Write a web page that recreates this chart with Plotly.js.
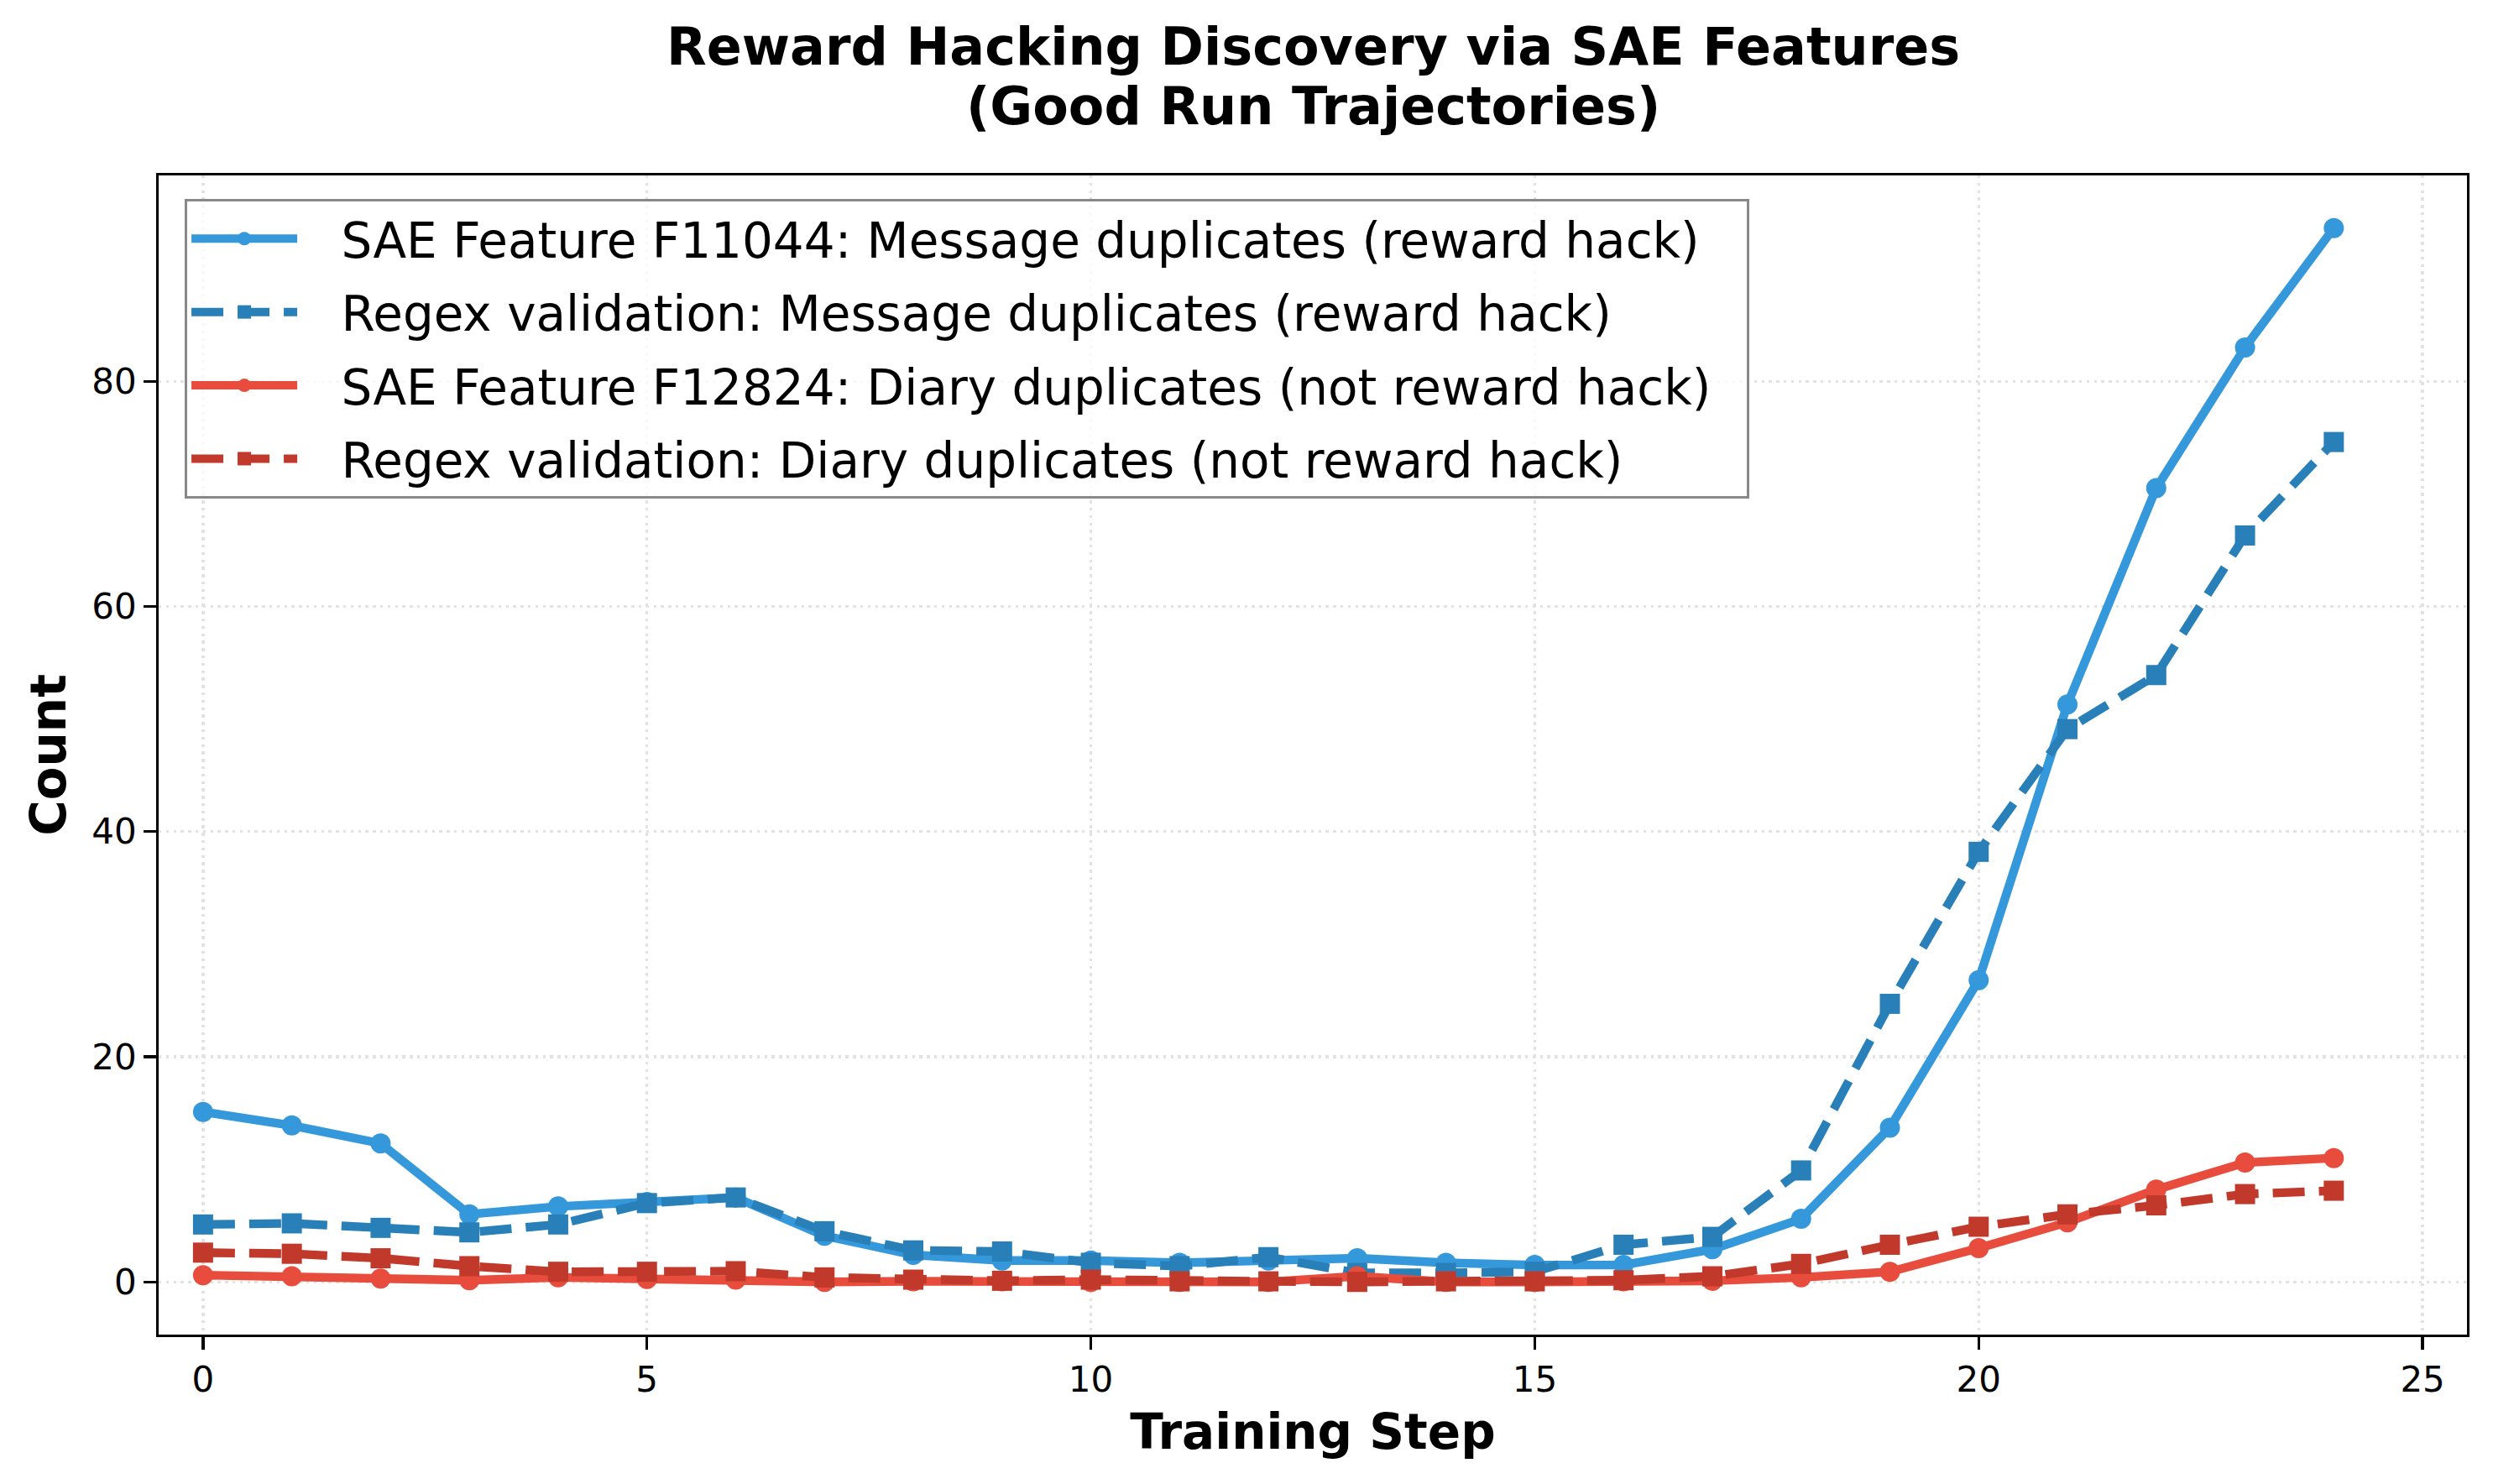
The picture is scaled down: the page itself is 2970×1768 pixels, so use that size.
<!DOCTYPE html>
<html>
<head>
<meta charset="utf-8">
<script src="https://cdn.plot.ly/plotly-3.0.1.min.js"></script>
<style>
  html, body { margin: 0; padding: 0; background: #fff; }
  #chart { width: 2970px; height: 1768px; }
</style>
</head>
<body>
<div id="chart"></div>
<script>
// training steps
const steps = [0, 1, 2, 3, 4, 5, 6, 7, 8, 9, 10, 11, 12, 13, 14, 15, 16, 17, 18, 19, 20, 21, 22, 23, 24];

// counts
const saeMessage = [15.1, 13.9, 12.3, 6.0, 6.7, 7.1, 7.5, 4.1, 2.4, 1.9, 1.9, 1.7, 1.9, 2.1, 1.7, 1.5, 1.5, 2.9, 5.6, 13.7, 26.8, 51.3, 70.5, 83.0, 93.6];
const regexMessage = [5.1, 5.2, 4.8, 4.4, 5.1, 7.0, 7.5, 4.5, 2.8, 2.7, 1.7, 1.4, 2.2, 0.8, 0.8, 0.9, 3.3, 4.0, 9.9, 24.7, 38.2, 49.1, 53.9, 66.3, 74.6];
const saeDiary = [0.6, 0.5, 0.3, 0.15, 0.4, 0.25, 0.2, 0.0, 0.05, 0.05, 0.0, 0.0, 0.0, 0.5, 0.0, 0.0, 0.05, 0.1, 0.4, 0.9, 3.0, 5.3, 8.2, 10.6, 11.0];
const regexDiary = [2.6, 2.5, 2.1, 1.4, 0.9, 0.9, 0.95, 0.4, 0.2, 0.1, 0.2, 0.05, 0.05, 0.0, 0.05, 0.05, 0.15, 0.5, 1.6, 3.3, 4.9, 6.0, 6.8, 7.8, 8.1];

const seriesNames = [
    'SAE Feature F11044: Message duplicates (reward hack)',
    'Regex validation: Message duplicates (reward hack)',
    'SAE Feature F12824: Diary duplicates (not reward hack)',
    'Regex validation: Diary duplicates (not reward hack)'
];

const xTicks = [0, 5, 10, 15, 20, 25];
const yTicks = [0, 20, 40, 60, 80];

const FONT = 'DejaVu Sans';
const DASH = '38px,17px';
// extra room between legend symbol and label, and at the right of the box
const PAD_LEFT = '\u2002\u00a0';
const PAD_RIGHT = '\u00a0\u00a0';

function makeTrace(y, name, color, symbol, dash, group) {
    return {
        x: steps,
        y: y,
        name: PAD_LEFT + name + PAD_RIGHT,
        legendgroup: group,
        type: 'scatter',
        mode: 'lines+markers',
        line: { color: color, width: 10.4, dash: dash },
        marker: { color: color, size: 24, symbol: symbol, line: { width: 0 } }
    };
}

const traces = [
    makeTrace(saeMessage, seriesNames[0], '#3498db', 'circle', 'solid', 'a'),
    makeTrace(regexMessage, seriesNames[1], '#2980b9', 'square', DASH, 'b'),
    makeTrace(saeDiary, seriesNames[2], '#e74c3c', 'circle', 'solid', 'c'),
    makeTrace(regexDiary, seriesNames[3], '#c0392b', 'square', DASH, 'd')
];

const axisCommon = {
    showline: true,
    mirror: true,
    linecolor: '#000',
    linewidth: 3.3,
    ticks: 'outside',
    ticklen: 14.6,
    tickwidth: 3.3,
    tickcolor: '#000',
    tickfont: { family: FONT, size: 42, color: '#000' },
    showgrid: true,
    gridcolor: '#e2e2e2',
    gridwidth: 3.3,
    griddash: '3.3px,5.5px',
    zeroline: false
};

const layout = {
    width: 2970,
    height: 1768,
    paper_bgcolor: '#fff',
    plot_bgcolor: '#fff',
    margin: { l: 189, r: 31, t: 209, b: 178 },
    showlegend: true,
    font: { family: FONT, color: '#000' },
    xaxis: Object.assign({}, axisCommon, {
        range: [-0.5, 25.5],
        tickvals: xTicks,
        ticktext: xTicks.map(String),
        title: { text: 'Training Step', font: { family: FONT, size: 58, weight: 'bold', color: '#000' }, standoff: 19 }
    }),
    yaxis: Object.assign({}, axisCommon, {
        range: [-4.68, 98.28],
        tickvals: yTicks,
        ticktext: yTicks.map(String),
        title: { text: 'Count', font: { family: FONT, size: 58, weight: 'bold', color: '#000' }, standoff: 13 }
    }),
    legend: {
        x: 0.0113,
        y: 0.9797,
        xanchor: 'left',
        yanchor: 'top',
        bgcolor: 'rgba(255,255,255,0.8)',
        bordercolor: '#888',
        borderwidth: 3,
        font: { family: FONT, size: 58, color: '#000' },
        traceorder: 'grouped',
        tracegroupgap: 9,
        itemwidth: 126
    },
    annotations: [
        {
            text: 'Reward Hacking Discovery via SAE Features',
            xref: 'paper', yref: 'paper', x: 0.5, y: 1.1108,
            xanchor: 'center', yanchor: 'middle', showarrow: false,
            font: { family: FONT, size: 62, weight: 'bold', color: '#000' }
        },
        {
            text: '(Good Run Trajectories)',
            xref: 'paper', yref: 'paper', x: 0.5, y: 1.0601,
            xanchor: 'center', yanchor: 'middle', showarrow: false,
            font: { family: FONT, size: 62, weight: 'bold', color: '#000' }
        }
    ]
};

Plotly.newPlot('chart', traces, layout, { displayModeBar: false, staticPlot: true });
</script>
</body>
</html>
